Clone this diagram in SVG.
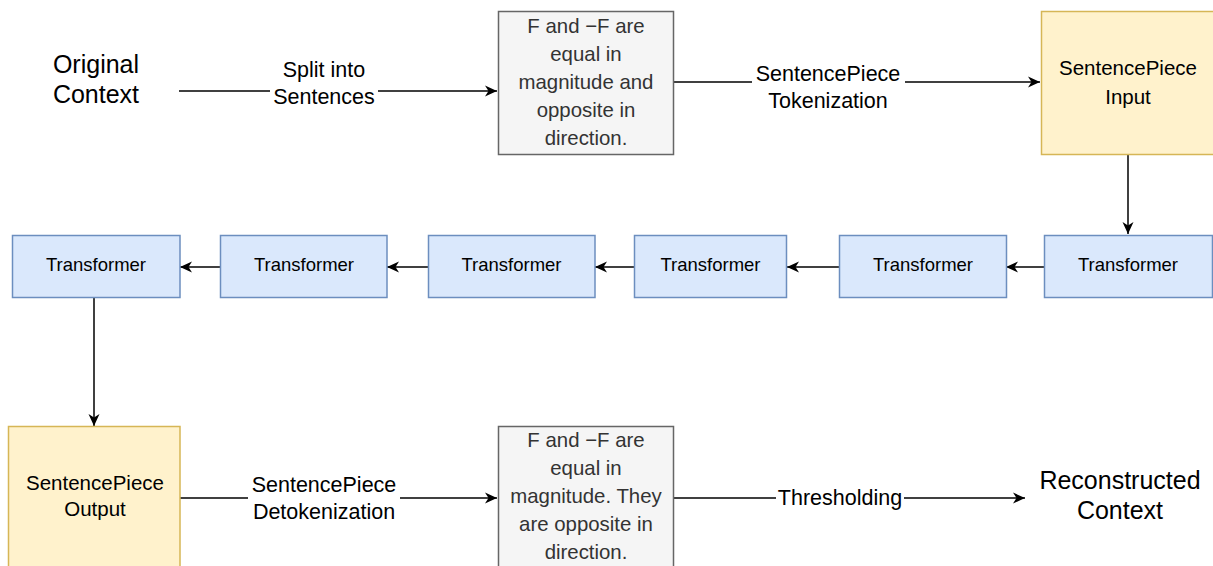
<svg xmlns="http://www.w3.org/2000/svg" width="1213" height="566" viewBox="0 0 1213 566">
<defs>
<marker id="arr" markerUnits="userSpaceOnUse" markerWidth="13" markerHeight="12" refX="12" refY="6" orient="auto">
<path d="M0,0.5 L12,6 L0,11.5 L3.5,6 Z" fill="#000"/>
</marker>
<style>
text{font-family:"Liberation Sans",Arial,sans-serif;text-anchor:middle;fill:#000}
.gray rect{fill:#f5f5f5;stroke:#666;stroke-width:1.5}
.gray text{fill:#333;font-size:20.4px}
.yel rect{fill:#fff2cc;stroke:#d6b656;stroke-width:1.5}
.yel text{font-size:20.5px}
.blue rect{fill:#dae8fc;stroke:#6c8ebf;stroke-width:1.5}
.blue text{font-size:18.5px}
.big{font-size:25px}
.lbl{font-size:21.5px}
.conn line{stroke:#000;stroke-width:1.5;marker-end:url(#arr)}
.bg{fill:#fff}
</style>
</defs>
<rect width="1213" height="566" fill="#fff"/>

<g id="connectors" class="conn">
<line x1="179" y1="91" x2="497" y2="91"/>
<line x1="674" y1="82" x2="1040" y2="82"/>
<line x1="1128" y1="155" x2="1128" y2="234"/>
<line x1="1044" y1="267" x2="1006" y2="267"/>
<line x1="839" y1="267" x2="787" y2="267"/>
<line x1="634" y1="267" x2="595" y2="267"/>
<line x1="428" y1="267" x2="387" y2="267"/>
<line x1="220" y1="267" x2="180" y2="267"/>
<line x1="94" y1="298" x2="94" y2="426"/>
<line x1="180" y1="498" x2="497" y2="498"/>
<line x1="674" y1="498" x2="1025" y2="498"/>
</g>

<g id="edge-labels">
<rect class="bg" x="270" y="56" width="108" height="54"/>
<text class="lbl" x="324" y="77">Split into</text>
<text class="lbl" x="324" y="104">Sentences</text>
<rect class="bg" x="752" y="61" width="153" height="52"/>
<text class="lbl" x="828" y="81">SentencePiece</text>
<text class="lbl" x="828" y="108">Tokenization</text>
<rect class="bg" x="248" y="472" width="152" height="52"/>
<text class="lbl" x="324" y="492">SentencePiece</text>
<text class="lbl" x="324" y="519">Detokenization</text>
<rect class="bg" x="776" y="485" width="128" height="26"/>
<text class="lbl" x="840" y="505">Thresholding</text>
</g>

<g id="original-context">
<text class="big" x="96" y="73">Original</text>
<text class="big" x="96" y="103">Context</text>
</g>

<g id="sentences-box" class="gray">
<rect x="498.5" y="11.5" width="175" height="143"/>
<text x="586" y="32.5">F and −F are</text>
<text x="586" y="61">equal in</text>
<text x="586" y="89">magnitude and</text>
<text x="586" y="117">opposite in</text>
<text x="586" y="145">direction.</text>
</g>

<g id="sp-input" class="yel">
<rect x="1041.5" y="11.5" width="185" height="143"/>
<text x="1128" y="75">SentencePiece</text>
<text x="1128" y="104">Input</text>
</g>

<g id="transformer-6" class="blue">
<rect x="1044.5" y="235.5" width="168" height="62"/>
<text x="1128" y="271">Transformer</text>
</g>
<g id="transformer-5" class="blue">
<rect x="839.5" y="235.5" width="167" height="62"/>
<text x="923" y="271">Transformer</text>
</g>
<g id="transformer-4" class="blue">
<rect x="634.5" y="235.5" width="152" height="62"/>
<text x="710.5" y="271">Transformer</text>
</g>
<g id="transformer-3" class="blue">
<rect x="428.5" y="235.5" width="166.5" height="62"/>
<text x="511.5" y="271">Transformer</text>
</g>
<g id="transformer-2" class="blue">
<rect x="220.5" y="235.5" width="166.5" height="62"/>
<text x="304" y="271">Transformer</text>
</g>
<g id="transformer-1" class="blue">
<rect x="12.5" y="235.5" width="167.5" height="62"/>
<text x="96" y="271">Transformer</text>
</g>

<g id="sp-output" class="yel">
<rect x="8.5" y="426.5" width="171.5" height="150"/>
<text x="95" y="490">SentencePiece</text>
<text x="95" y="516">Output</text>
</g>

<g id="decoded-box" class="gray">
<rect x="498.5" y="426.5" width="175" height="150"/>
<text x="586" y="447">F and −F are</text>
<text x="586" y="475">equal in</text>
<text x="586" y="503">magnitude. They</text>
<text x="586" y="531">are opposite in</text>
<text x="586" y="559">direction.</text>
</g>

<g id="reconstructed-context">
<text class="big" x="1120" y="489">Reconstructed</text>
<text class="big" x="1120" y="519">Context</text>
</g>
</svg>
